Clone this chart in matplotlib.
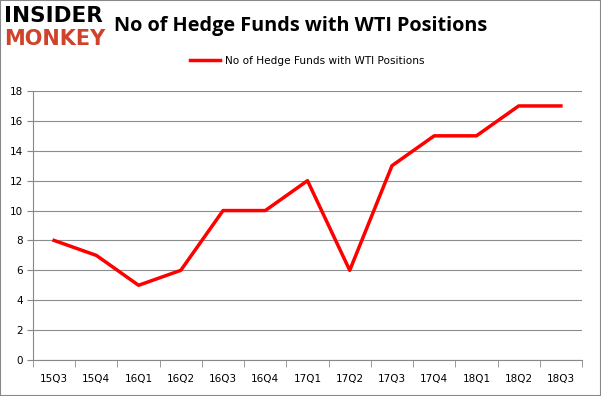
import matplotlib.pyplot as plt
import numpy as np

quarters = ["15Q3", "15Q4", "16Q1", "16Q2", "16Q3", "16Q4", "17Q1",
            "17Q2", "17Q3", "17Q4", "18Q1", "18Q2", "18Q3"]
funds = [8, 7, 5, 6, 10, 10, 12, 6, 13, 15, 15, 17, 17]

fig = plt.figure(figsize=(6.01, 3.96), dpi=100)
ax = fig.add_axes([33/601, 1-360/396, 549/601, 269/396])

x = np.arange(len(quarters))
ax.plot(x, funds, color="#ff0000", lw=2.5, label="No of Hedge Funds with WTI Positions")
ax.set_xlim(-0.5, len(quarters)-0.5)
ax.set_ylim(0, 18)
ax.set_yticks(range(0, 19, 2))
ax.set_xticks(x)
ax.set_xticklabels(quarters)
ax.set_xticks(np.arange(-0.5, len(quarters), 1), minor=True)
ax.tick_params(axis="x", which="major", length=0, pad=10, labelsize=7.5)
ax.tick_params(axis="x", which="minor", length=5, color="#888888")
ax.tick_params(axis="y", length=4, color="#888888", labelsize=7.5, pad=3)
ax.grid(axis="y", color="#8c8c8c", lw=0.8)
ax.set_axisbelow(True)
for s in ["top", "right"]:
    ax.spines[s].set_visible(False)
ax.spines["left"].set_color("#888888")
ax.spines["bottom"].set_color("#888888")

fig.text(0.5, 0.935, "No of Hedge Funds with WTI Positions", ha="center", va="center",
         fontsize=14.3, fontweight="bold", family="Open Sans")
ax.legend(loc="center", bbox_to_anchor=(0.5, (335/396 - (1-360/396)) / (269/396)),
          frameon=False, fontsize=7.6, handlelength=2.8, handletextpad=0.5)

fig.text(4/601, 1-16/396, "INSIDER", fontsize=15.5, fontweight="heavy", color="black",
         va="center", ha="left", family="DejaVu Sans")
fig.text(4/601, 1-39/396, "MONKEY", fontsize=15, fontweight="heavy", color="#d0432b",
         va="center", ha="left", family="DejaVu Sans")

fig.patches.append(plt.Rectangle((0, 0), 1, 1, transform=fig.transFigure,
                                 fill=False, edgecolor="#888888", lw=1.5))

fig.savefig("out.png", dpi=100)
